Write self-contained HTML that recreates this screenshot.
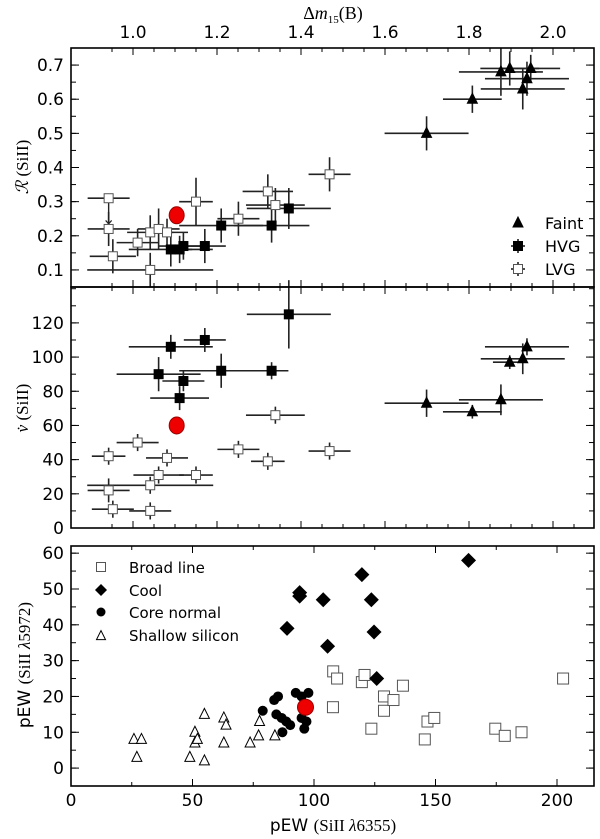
<!DOCTYPE html>
<html><head><meta charset="utf-8"><style>
body{margin:0;background:#fff;}
svg{display:block;font-family:"DejaVu Sans","Liberation Sans",sans-serif;}
</style></head><body>
<svg id="fig" width="600" height="839" viewBox="0 0 600 839"></svg>
<script>
// ---------- Panel 1: R(SiII) vs dm15 ----------
const lvgDm = [0.942,0.942,0.952,1.011,1.041,1.041,1.061,1.081,1.150,1.251,1.321,1.339,1.468];
const lvgDmErr = [0.05,0.05,0.055,0.05,0.055,0.15,0.05,0.05,0.04,0.05,0.06,0.07,0.05];
const lvgR = [0.31,0.22,0.14,0.18,0.21,0.10,0.22,0.21,0.30,0.25,0.33,0.29,0.38];
const lvgRErr = [0,0.05,0.05,0.04,0.05,0.05,0.06,0.04,0.07,0.05,0.05,0.05,0.05];
const hvgDm = [1.090,1.111,1.120,1.171,1.210,1.330,1.371];
const hvgDmErr = [0.10,0.03,0.06,0.05,0.10,0.09,0.10];
const hvgR = [0.16,0.16,0.17,0.17,0.23,0.23,0.28];
const hvgRErr = [0.05,0.04,0.04,0.05,0.05,0.05,0.06];
const faintDm = [1.699,1.808,1.876,1.897,1.947,1.938,1.928];
const faintDmErr = [0.10,0.07,0.10,0.07,0.07,0.10,0.10];
const faintR = [0.50,0.60,0.68,0.69,0.69,0.66,0.63];
const faintRErr = [0.05,0.04,0.07,0.05,0.04,0.05,0.06];
const redDm = 1.104, redDmErr = 0.017, redR = 0.26, redV = 60;
// ---------- Panel 2: vdot ----------
const hvgV = [125,110,106,90,86,92,92,76];
const hvgVDm = [1.371,1.171,1.090,1.061,1.120,1.210,1.330,1.111];
const hvgVDmErr = [0.10,0.05,0.10,0.10,0.05,0.10,0.04,0.07];
const hvgVErr = [20,7,7,10,6,10,5,7];
const faintV = [73,68,75,97,99,106];
const faintVDm = [1.699,1.808,1.876,1.897,1.928,1.938];
const faintVDmErr = [0.10,0.07,0.10,0.04,0.10,0.10];
const faintVErr = [8,4,9,4,9,5];
const lvgV = [42,50,41,31,31,25,22,11,10,46,39,66,45];
const lvgVDm = [0.942,1.011,1.081,1.061,1.150,1.041,0.942,0.952,1.041,1.251,1.321,1.339,1.468];
const lvgVDmErr = [0.04,0.05,0.05,0.06,0.04,0.15,0.05,0.05,0.05,0.05,0.04,0.07,0.05];
const lvgVErr = [5,5,5,5,5,5,7,5,5,5,5,5,5];
// ---------- Panel 3: pEW ----------
const broadX = [107.9,109.5,107.8,119.7,120.8,123.6,128.8,128.8,132.7,136.6,145.6,146.7,149.5,174.6,178.5,185.4,202.5];
const broadY = [27,25,17,24,26,11,20,16,19,23,8,13,14,11,9,10,25];
const coolX = [163.6,119.7,94.1,94.1,103.8,123.6,88.9,124.7,105.6,125.8];
const coolY = [58,54,49,48,47,47,39,38,34,25];
const coreX = [78.9,83.6,85.2,84.5,86.7,88.6,90.2,87.0,92.5,97.7,94.9,94.9,96.9,96.0];
const coreY = [16,19,20,15,14,13,12,10,21,21,20,14,13,11];
const shallowX = [25.9,29.0,27.1,48.9,51.0,51.0,52.0,54.9,54.9,62.9,63.8,62.9,73.7,77.2,77.6,83.9];
const shallowY = [8,8,3,3,10,7,8,15,2,14,12,7,7,9,13,9];
const redPewX = 96.5, redPewY = 17;
const xTicksTop = [1.0,1.2,1.4,1.6,1.8,2.0];
const rTicks = [0.1,0.2,0.3,0.4,0.5,0.6,0.7];
const vTicks = [0,20,40,60,80,100,120];
const pewYTicks = [0,10,20,30,40,50,60];
const pewXTicks = [0,50,100,150,200];

const NS='http://www.w3.org/2000/svg';
const svg=document.getElementById('fig');
function el(tag,attrs,parent){const e=document.createElementNS(NS,tag);for(const k in attrs)e.setAttribute(k,attrs[k]);(parent||svg).appendChild(e);return e;}
const L=71,R=594;
const sx=v=>133+(v-1)*420;
const P1={t:48,b:287}, P2={t:287,b:528}, P3={t:546,b:786};
const sy1=v=>P1.b-(v-0.05)/0.70*(P1.b-P1.t);
const sy2=v=>P2.b-v/141*(P2.b-P2.t);
const sx3=v=>L+v*2.43;
const sy3=v=>P3.b-(v+5)/67*(P3.b-P3.t);

function frame(p,name){const r=el('rect',{x:L,y:p.t,width:R-L,height:p.b-p.t,fill:'none',stroke:'#000','stroke-width':1.6});}
function ticksX(p,vals,scale,len){vals.forEach(v=>{const x=scale(v);if(x<L||x>R)return;el('line',{x1:x,y1:p.t,x2:x,y2:p.t+len,stroke:'#000','stroke-width':1});el('line',{x1:x,y1:p.b,x2:x,y2:p.b-len,stroke:'#000','stroke-width':1});});}
function ticksY(p,vals,scale,len){vals.forEach(v=>{const y=scale(v);if(y<p.t||y>p.b)return;el('line',{x1:L,y1:y,x2:L+len,y2:y,stroke:'#000','stroke-width':1});el('line',{x1:R,y1:y,x2:R-len,y2:y,stroke:'#000','stroke-width':1});});}
function label(x,y,t,name,anchor,size){const e=el('text',{x:x,y:y,'text-anchor':anchor||'middle','font-size':size||17,fill:'#000'});e.textContent=t;return e;}
function errbar(x,y,ex1,ex2,ey1,ey2,col){const g=el('g',{stroke:col||'#222','stroke-width':1.6});el('line',{x1:ex1,y1:y,x2:ex2,y2:y},g);if(ey1!==ey2)el('line',{x1:x,y1:ey1,x2:x,y2:ey2},g);}
function square(x,y,fill,s,name){const r=el('rect',{x:x-s/2,y:y-s/2,width:s,height:s,fill:fill,stroke:fill==='#fff'?'#555':'#000','stroke-width':1});}
function tri(x,y,fill,s,name){const h=s;const p=el('polygon',{points:`${x},${y-h*0.6} ${x-s/2},${y+h*0.4} ${x+s/2},${y+h*0.4}`,fill:fill,stroke:'#000','stroke-width':1});}
function diamond(x,y,s,name){const p=el('polygon',{points:`${x},${y-s} ${x+s},${y} ${x},${y+s} ${x-s},${y}`,fill:'#000'});}
function circ(x,y,r,fill,name,stroke){const c=el('circle',{cx:x,cy:y,r:r,fill:fill,stroke:stroke||'none','stroke-width':1});}

// ----- Panel 1 -----
const minorDm=[];for(let v=0.95;v<=2.1;v+=0.05)minorDm.push(+v.toFixed(2));
ticksX(P1,minorDm,sx,4);ticksX(P1,xTicksTop,sx,7);
const minorR=[];for(let v=0.05;v<=0.75;v+=0.05)minorR.push(+v.toFixed(2));
ticksY(P1,minorR,sy1,5);ticksY(P1,rTicks,sy1,8);
xTicksTop.forEach(v=>label(sx(v),38,v.toFixed(1),'top-x-tick-label'));
rTicks.forEach(v=>label(64,sy1(v)+6,v.toFixed(1),'r-tick-label','end'));
lvgDm.forEach((d,i)=>{const x=sx(d),y=sy1(lvgR[i]);errbar(x,y,sx(d-lvgDmErr[i]),sx(d+lvgDmErr[i]),sy1(lvgR[i]-lvgRErr[i]),sy1(lvgR[i]+lvgRErr[i]));});
el('line',{x1:sx(lvgDm[0]),y1:sy1(lvgR[0]),x2:sx(lvgDm[0]),y2:sy1(lvgR[0]-0.075),stroke:'#222','stroke-width':1.4});
el('polyline',{points:`${sx(lvgDm[0])-3},${sy1(lvgR[0]-0.065)} ${sx(lvgDm[0])},${sy1(lvgR[0]-0.075)} ${sx(lvgDm[0])+3},${sy1(lvgR[0]-0.065)}`,fill:'none',stroke:'#222','stroke-width':1.2});
hvgDm.forEach((d,i)=>{const x=sx(d),y=sy1(hvgR[i]);errbar(x,y,sx(d-hvgDmErr[i]),sx(d+hvgDmErr[i]),sy1(hvgR[i]-hvgRErr[i]),sy1(hvgR[i]+hvgRErr[i]));});
faintDm.forEach((d,i)=>{const x=sx(d),y=sy1(faintR[i]);errbar(x,y,sx(d-faintDmErr[i]),sx(d+faintDmErr[i]),sy1(faintR[i]-faintRErr[i]),sy1(faintR[i]+faintRErr[i]));});
lvgDm.forEach((d,i)=>square(sx(d),sy1(lvgR[i]),'#fff',9,'lvg-point'));
hvgDm.forEach((d,i)=>square(sx(d),sy1(hvgR[i]),'#000',9,'hvg-point'));
faintDm.forEach((d,i)=>tri(sx(d),sy1(faintR[i]),'#000',10,'faint-point'));
errbar(sx(redDm),sy1(redR),sx(redDm-redDmErr),sx(redDm+redDmErr),0,0,'#e00');
el('ellipse',{cx:sx(redDm),cy:sy1(redR),rx:7.5,ry:8.5,fill:'#e00',stroke:'#900'});
frame(P1,'panel-r-frame');
tri(518,223,'#000',10,'legend-faint-marker');label(545,229,'Faint','legend-faint','start',16);
el('line',{x1:511,y1:246,x2:525,y2:246,stroke:'#000','stroke-width':1.4});el('line',{x1:518,y1:239,x2:518,y2:253,stroke:'#000','stroke-width':1.4});
square(518,246,'#000',9,'legend-hvg-marker');label(545,252,'HVG','legend-hvg','start',16);
el('line',{x1:511,y1:269,x2:525,y2:269,stroke:'#000','stroke-width':1.4});el('line',{x1:518,y1:262,x2:518,y2:276,stroke:'#000','stroke-width':1.4});
square(518,269,'#fff',9,'legend-lvg-marker');label(545,275,'LVG','legend-lvg','start',16);
const t1=el('text',{x:333,y:19,'text-anchor':'middle','font-size':18,'font-family':'Liberation Serif, serif'});t1.innerHTML='Δ<tspan font-style="italic">m</tspan><tspan font-size="11" dy="4">15</tspan><tspan dy="-4">(B)</tspan>';
const t2=el('text',{x:0,y:0,'text-anchor':'middle','font-size':17,'font-family':'Liberation Serif, serif',transform:'translate(28,167) rotate(-90)'});t2.innerHTML='<tspan font-style="italic">ℛ</tspan> (SiII)';

// ----- Panel 2 -----
ticksX(P2,minorDm,sx,4);ticksX(P2,xTicksTop,sx,7);
const minorV=[];for(let v=10;v<=140;v+=10)minorV.push(v);
ticksY(P2,minorV,sy2,5);ticksY(P2,vTicks,sy2,8);
vTicks.forEach(v=>label(64,sy2(v)+6,String(v),'v-tick-label','end'));
hvgVDm.forEach((d,i)=>errbar(sx(d),sy2(hvgV[i]),sx(d-hvgVDmErr[i]),sx(d+hvgVDmErr[i]),sy2(hvgV[i]-hvgVErr[i]),Math.max(P1.b-40,sy2(hvgV[i]+hvgVErr[i]))));
faintVDm.forEach((d,i)=>errbar(sx(d),sy2(faintV[i]),sx(d-faintVDmErr[i]),sx(d+faintVDmErr[i]),sy2(faintV[i]-faintVErr[i]),sy2(faintV[i]+faintVErr[i])));
lvgVDm.forEach((d,i)=>errbar(sx(d),sy2(lvgV[i]),sx(d-lvgVDmErr[i]),sx(d+lvgVDmErr[i]),sy2(lvgV[i]-lvgVErr[i]),sy2(lvgV[i]+lvgVErr[i])));
lvgVDm.forEach((d,i)=>square(sx(d),sy2(lvgV[i]),'#fff',9,'lvg-v-point'));
hvgVDm.forEach((d,i)=>square(sx(d),sy2(hvgV[i]),'#000',9,'hvg-v-point'));
faintVDm.forEach((d,i)=>tri(sx(d),sy2(faintV[i]),'#000',10,'faint-v-point'));
errbar(sx(redDm),sy2(redV),sx(redDm-redDmErr),sx(redDm+redDmErr),0,0,'#e00');
el('ellipse',{cx:sx(redDm),cy:sy2(redV),rx:7.5,ry:8.5,fill:'#e00',stroke:'#900'});
frame(P2,'panel-v-frame');
const t3=el('text',{x:0,y:0,'text-anchor':'middle','font-size':17,'font-family':'Liberation Serif, serif',transform:'translate(28,408) rotate(-90)'});t3.innerHTML='<tspan font-style="italic">v̇</tspan> (SiII)';

// ----- Panel 3 -----
const minorPx=[];for(let v=0;v<=215;v+=25)minorPx.push(v);
ticksX(P3,minorPx,sx3,4);ticksX(P3,pewXTicks,sx3,7);
const minorPy=[];for(let v=-5;v<=60;v+=5)minorPy.push(v);
ticksY(P3,minorPy,sy3,5);ticksY(P3,pewYTicks,sy3,8);
pewYTicks.forEach(v=>label(64,sy3(v)+6,String(v),'pew-y-tick-label','end'));
pewXTicks.forEach(v=>label(sx3(v),806,String(v),'pew-x-tick-label'));
broadX.forEach((v,i)=>square(sx3(v),sy3(broadY[i]),'#fff',11,'broad-line-point'));
coolX.forEach((v,i)=>diamond(sx3(v),sy3(coolY[i]),7.5,'cool-point'));
coreX.forEach((v,i)=>circ(sx3(v),sy3(coreY[i]),5,'#000','core-normal-point'));
shallowX.forEach((v,i)=>tri(sx3(v),sy3(shallowY[i]),'#fff',10,'shallow-silicon-point'));
circ(sx3(redPewX),sy3(redPewY),8,'#e00','highlight-point-pew','#900');
frame(P3,'panel-pew-frame');
square(101,567,'#fff',9,'legend-broad-marker');label(129,573,'Broad line','legend-broad-line','start',15);
diamond(101,590,6,'legend-cool-marker');label(129,596,'Cool','legend-cool','start',15);
circ(101,612,4.5,'#000','legend-core-marker');label(129,618,'Core normal','legend-core-normal','start',15);
tri(101,636,'#fff',9,'legend-shallow-marker');label(129,641,'Shallow silicon','legend-shallow-silicon','start',15);
const t4=el('text',{x:333,y:831,'text-anchor':'middle','font-size':17});t4.innerHTML='pEW <tspan font-family="Liberation Serif, serif">(SiII <tspan font-style="italic">λ</tspan>6355)</tspan>';
const t5=el('text',{x:0,y:0,'text-anchor':'middle','font-size':17,transform:'translate(30,665) rotate(-90)'});t5.innerHTML='pEW <tspan font-family="Liberation Serif, serif">(SiII <tspan font-style="italic">λ</tspan>5972)</tspan>';
</script>
</body></html>
